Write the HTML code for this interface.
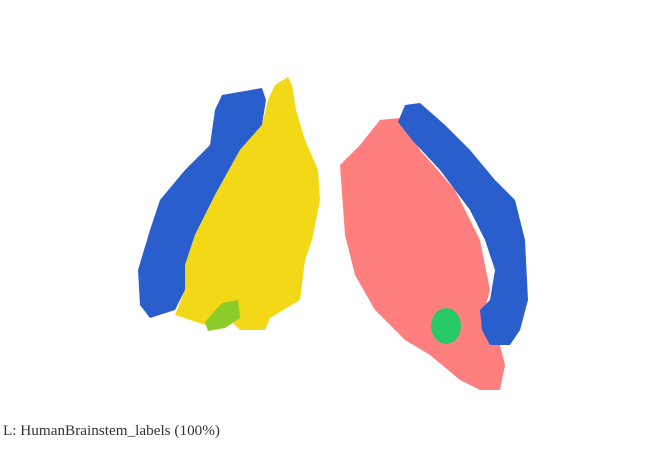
<!DOCTYPE html>
<html><head><meta charset="utf-8"><style>
html,body{margin:0;padding:0;background:#fff;width:652px;height:456px;overflow:hidden}
svg{display:block}
</style></head><body>
<svg width="652" height="456" viewBox="0 0 652 456">
<polygon fill="#2a5ecc" points="222,95 262,88 266,100 262,125 240,150 215,195 195,235 185,265 185,290 175,310 150,318 140,305 138,270 150,230 160,200 185,170 210,145 215,110"/>
<polygon fill="#f2d816" points="275,85 288,77 292,85 296,110 305,140 318,170 320,200 312,240 305,260 300,300 270,318 265,330 240,330 230,320 205,325 175,315 185,290 185,265 195,235 215,195 240,150 262,125 268,100"/>
<polygon fill="#8ccc2a" points="222,303 238,300 240,318 225,328 208,331 205,322"/>
<polygon fill="#ff7f7f" points="380,120 400,118 420,150 455,190 480,240 490,290 482,320 500,345 505,365 500,390 480,390 460,380 430,355 405,340 375,310 355,275 345,235 340,165 360,145"/>
<polygon fill="#2a5ecc" points="405,105 420,103 445,125 470,150 495,180 515,200 525,240 528,300 520,330 510,345 490,345 482,330 480,310 490,300 495,270 485,240 470,210 440,170 412,140 398,122"/>
<ellipse fill="#27c964" cx="446" cy="326" rx="15" ry="18"/>
<text x="3" y="435" font-family="'Liberation Serif',serif" font-size="15" textLength="217" lengthAdjust="spacingAndGlyphs" fill="#333">L: HumanBrainstem_labels (100%)</text>
</svg>
</body></html>
